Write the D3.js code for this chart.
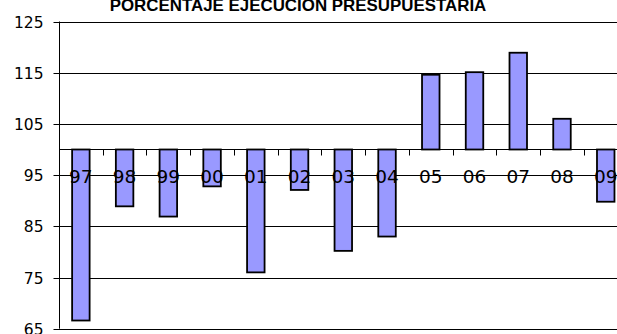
<!DOCTYPE html>
<html><head><meta charset="utf-8">
<script src="https://cdn.jsdelivr.net/npm/d3@7"></script>
<style>html,body{margin:0;padding:0;background:#fff;overflow:hidden}</style>
</head><body>
<svg id="c" width="617" height="334"></svg>
<script>
const categories = ["97","98","99","00","01","02","03","04","05","06","07","08","09"];
const values = [66.6, 88.9, 86.9, 92.8, 76, 92.1, 80.2, 83, 114.6, 115.1, 118.9, 106, 89.8];
const yTicks = [65, 75, 85, 95, 105, 115, 125];
const baseValue = 100;
const title = "PORCENTAJE EJECUCION PRESUPUESTARIA";

(function () {
const svg = d3.select("#c");
const pLeft = 59, pRight = 627.6, pTop = 21.5, pBottom = 328.7;

const x = d3.scaleBand().domain(categories).range([pLeft, pRight]).padding(0);
const y = d3.scaleLinear().domain([65, 125]).range([pBottom, pTop]);

// gridlines
svg.append("g").selectAll("line").data(yTicks).join("line")
  .attr("x1", pLeft).attr("x2", 617)
  .attr("y1", d => Math.round(y(d)) + 0.5).attr("y2", d => Math.round(y(d)) + 0.5)
  .attr("stroke", "#000").attr("stroke-width", 1);

// y axis
const yAxis = d3.axisLeft(y).tickValues(yTicks).tickSize(6).tickPadding(10).tickFormat(d3.format("d"));
const ga = svg.append("g").attr("transform", `translate(${pLeft + 0.5},0)`).call(yAxis);
ga.select(".domain").attr("d", `M0,${pTop}V${pBottom}`).attr("stroke", "#000");
ga.selectAll(".tick").attr("transform", d => `translate(0,${Math.round(y(d)) + 0.5})`);
ga.selectAll(".tick line").attr("stroke", "#000");
ga.selectAll(".tick text").attr("font-family", "DejaVu Sans, Verdana, sans-serif")
  .attr("font-size", 15.5).attr("fill", "#000").attr("dy", "0.36em");

// bars
const bw = x.bandwidth() * 0.4;
const y0 = Math.round(y(baseValue)) + 0.5;
svg.append("g").selectAll("rect").data(values).join("rect")
  .attr("x", (d, i) => x(categories[i]) + x.bandwidth() / 2 - bw / 2)
  .attr("width", bw)
  .attr("y", d => Math.min(y(d), y0))
  .attr("height", d => Math.abs(y(d) - y0))
  .attr("fill", "#9999FF").attr("stroke", "#000").attr("stroke-width", 1.8);

// category axis at 100
const gx = svg.append("g").attr("transform", `translate(0,${y0})`);
gx.append("line").attr("x1", pLeft).attr("x2", pRight).attr("stroke", "#000");
gx.selectAll(".sep").data(categories).join("line").attr("class", "sep")
  .attr("x1", d => Math.round(x(d)) + 0.5).attr("x2", d => Math.round(x(d)) + 0.5)
  .attr("y1", 0).attr("y2", 6).attr("stroke", "#000");
gx.selectAll(".lab").data(categories).join("text").attr("class", "lab")
  .attr("x", d => x(d) + x.bandwidth() / 2).attr("y", 33.5)
  .attr("text-anchor", "middle")
  .attr("font-family", "DejaVu Sans, Verdana, sans-serif").attr("font-size", 18.5)
  .attr("fill", "#000").text(d => d);

// title
svg.append("text").attr("x", 298).attr("y", 10.5).attr("text-anchor", "middle")
  .attr("font-family", "Liberation Sans, Arial, sans-serif").attr("font-weight", "bold")
  .attr("font-size", 16.9).attr("fill", "#000").text(title);
})();
</script>
</body></html>
